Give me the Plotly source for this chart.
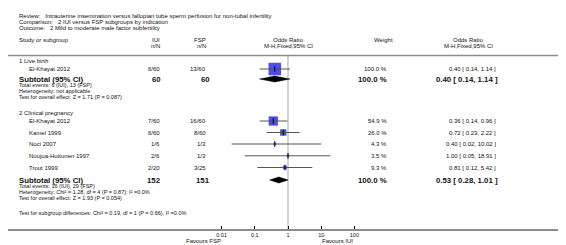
import plotly.graph_objects as go
import math

# ---------------- data ----------------
title_lines = [
    "Review:\u00a0\u00a0 Intrauterine insemination versus fallopian tube sperm perfusion for non-tubal infertility",
    "Comparison:\u00a0\u00a0 2 IUI versus FSP subgroups by indication",
    "Outcome:\u00a0\u00a0 2 Mild to moderate male factor subfertility",
]
group_labels = ["1 Live birth", "2 Clinical pregnancy"]

g1_studies = ["El-Khayat 2012"]
g1_iui = ["6/60"]
g1_fsp = ["13/60"]
g1_weight = [100.0]
g1_or = [0.40]
g1_lo = [0.14]
g1_hi = [1.14]

g2_studies = ["El-Khayat 2012", "Kamel 1999", "Noci 2007", "Nuojua-Huttunen 1997", "Trout 1999"]
g2_iui = ["7/60", "6/60", "1/6", "2/6", "2/20"]
g2_fsp = ["16/60", "8/60", "1/3", "1/3", "3/25"]
g2_weight = [54.9, 26.0, 4.3, 3.5, 9.3]
g2_or = [0.36, 0.72, 0.40, 1.00, 0.81]
g2_lo = [0.14, 0.23, 0.02, 0.05, 0.12]
g2_hi = [0.96, 2.22, 10.02, 18.91, 5.42]

sub_totals_iui = ["60", "152"]
sub_totals_fsp = ["60", "151"]
sub_weight = [100.0, 100.0]
sub_or = [0.40, 0.53]
sub_lo = [0.14, 0.28]
sub_hi = [1.14, 1.01]
sub_notes = [
    ["Total events: 6 (IUI), 13 (FSP)",
     "Heterogeneity: not applicable",
     "Test for overall effect: Z = 1.71 (P = 0.087)"],
    ["Total events: 16 (IUI), 29 (FSP)",
     "Heterogeneity: Chi\u00b2 = 1.28, df = 4 (P = 0.87); I\u00b2 =0.0%",
     "Test for overall effect: Z = 1.93 (P = 0.054)"],
]
subgroup_diff = "Test for subgroup differences: Chi\u00b2 = 0.19, df = 1 (P = 0.66), I\u00b2 =0.0%"
tick_vals = [0.01, 0.1, 1, 10, 100]
tick_text = ["0.01", "0.1", "1", "10", "100"]
favours = ["Favours FSP", "Favours IUI"]

# ---------------- layout constants ----------------
W, H = 566, 245
AXIS_Y = 221
PX_ONE = 280.0
PX_DEC = 33.2
FONT = "Liberation Sans, Arial, sans-serif"
FS = 6
FS_NOTE = 5.5
FSB = 7.8
TXT = "#111111"

X_LEFT = 10
X_IND = 20
X_IUI = 153
X_FSP = 199
X_W = 380
X_OR = 489

r0 = -PX_ONE / PX_DEC
r1 = (W - PX_ONE) / PX_DEC

# row positions (pixels from top)
y_title = [7.5, 13.5, 19.5]
y_head = [31.5, 38]
y_line = 47.5
y_g1_label = 53
y_g1 = [61]
y_sub = [71, 172]
NOTE_GAP = 6.2
y_g2_label = 104.5
y_g2 = [113, 124.5, 136, 147.8, 159.5]
y_diff = 205

fig = go.Figure()
ann = []


def txt(x, y, s, anchor="left", bold=False, size=None, yref="y"):
    ann.append(dict(
        x=x / W, xref="paper", y=y, yref=yref, text=("<b>%s</b>" % s) if bold else s,
        showarrow=False, xanchor=anchor, yanchor="middle", borderpad=0,
        font=dict(family=FONT, size=size or (FSB if bold else FS), color=TXT),
    ))


for s, y in zip(title_lines, y_title):
    txt(X_LEFT, y, s)
txt(X_LEFT, y_head[0], "Study or subgroup")
txt(X_IUI, y_head[0], "IUI", "right")
txt(X_IUI, y_head[1], "n/N", "right")
txt(X_FSP, y_head[0], "FSP", "right")
txt(X_FSP, y_head[1], "n/N", "right")
txt(PX_ONE, y_head[0], "Odds Ratio", "center")
txt(PX_ONE, y_head[1], "M-H,Fixed,95% CI", "center")
txt(X_W - 4, y_head[0], "Weight", "center")
txt(460, y_head[0], "Odds Ratio", "center")
txt(460, y_head[1], "M-H,Fixed,95% CI", "center")


def fmt_or(o, l, h):
    return "%.2f [ %.2f, %.2f ]" % (o, l, h)


groups = [
    (g1_studies, g1_iui, g1_fsp, g1_weight, g1_or, g1_lo, g1_hi, y_g1, y_g1_label),
    (g2_studies, g2_iui, g2_fsp, g2_weight, g2_or, g2_lo, g2_hi, y_g2, y_g2_label),
]

for gi, (studies, iui, fsp, wt, orr, lo, hi, ys, ylab) in enumerate(groups):
    txt(X_LEFT, ylab, group_labels[gi])
    # boxes (area proportional to weight)
    fig.add_trace(go.Scatter(
        x=orr, y=ys, mode="markers",
        marker=dict(symbol="square", size=[12.5 * math.sqrt(w / 100.0) for w in wt],
                    color="#0000ee", line=dict(width=0)), hoverinfo="skip"))
    for s, a, b, w, o, l, h, y in zip(studies, iui, fsp, wt, orr, lo, hi, ys):
        txt(X_IND, y, s)
        txt(X_IUI, y, a, "right")
        txt(X_FSP, y, b, "right")
        txt(X_W, y, "%.1f %%" % w, "right")
        txt(X_OR, y, fmt_or(o, l, h), "right")
        # CI line
        fig.add_trace(go.Scatter(x=[l, h], y=[y, y], mode="lines",
                                 line=dict(color="#555555", width=1), hoverinfo="skip"))
    fig.add_trace(go.Scatter(
        x=orr, y=ys, mode="markers",
        marker=dict(symbol="line-ns", size=4, line=dict(color="#000000", width=1)),
        hoverinfo="skip"))
    # subtotal
    ysb = y_sub[gi]
    txt(X_LEFT, ysb, "Subtotal (95% CI)", bold=True)
    txt(X_IUI + 1, ysb, sub_totals_iui[gi], "right", bold=True)
    txt(X_FSP + 4, ysb, sub_totals_fsp[gi], "right", bold=True)
    txt(X_W, ysb, "%.1f %%" % sub_weight[gi], "right", bold=True)
    txt(X_OR + 2, ysb, fmt_or(sub_or[gi], sub_lo[gi], sub_hi[gi]), "right", bold=True)
    fig.add_trace(go.Scatter(
        x=[sub_lo[gi], sub_or[gi], sub_hi[gi], sub_or[gi], sub_lo[gi]],
        y=[ysb, ysb - 3, ysb, ysb + 3, ysb], mode="lines", fill="toself",
        fillcolor="#000000", line=dict(color="#000000", width=0.5), hoverinfo="skip"))
    for k, s in enumerate(sub_notes[gi]):
        txt(X_LEFT, ysb + NOTE_GAP * (k + 1) - 0.2, s, size=FS_NOTE)

txt(X_LEFT, y_diff, subgroup_diff, size=FS_NOTE)


# favours labels (below axis)
def py_to_paper(py):
    return (AXIS_Y - py) / AXIS_Y


ann.append(dict(x=(PX_ONE - 2 * PX_DEC) / W, xref="paper", y=py_to_paper(232.5), yref="paper",
                text=favours[0], showarrow=False, xanchor="right", yanchor="middle", borderpad=0,
                font=dict(family=FONT, size=FS, color=TXT)))
ann.append(dict(x=(PX_ONE + PX_DEC) / W, xref="paper", y=py_to_paper(232.5), yref="paper",
                text=favours[1], showarrow=False, xanchor="left", yanchor="middle", borderpad=0,
                font=dict(family=FONT, size=FS, color=TXT)))

shapes = [
    # header rule
    dict(type="line", xref="paper", yref="y", x0=0, x1=1, y0=y_line, y1=y_line,
         line=dict(color="#8c8c8c", width=1.5)),
    # line of no effect
    dict(type="line", xref="x", yref="y", x0=1, x1=1, y0=y_line, y1=AXIS_Y,
         line=dict(color="#d4d4d4", width=2), layer="below"),
]

fig.update_layout(
    width=W, height=H, margin=dict(l=0, r=0, t=0, b=H - AXIS_Y),
    paper_bgcolor="white", plot_bgcolor="white", showlegend=False,
    annotations=ann, shapes=shapes,
    xaxis=dict(type="log", range=[r0, r1], showgrid=False, zeroline=False,
               showline=True, linecolor="#8c8c8c", linewidth=1.5,
               ticks="inside", ticklen=3, tickcolor="#000000", tickwidth=0.8,
               tickvals=tick_vals, ticktext=tick_text, ticklabelstandoff=0,
               tickfont=dict(family=FONT, size=5.5, color=TXT), fixedrange=True),
    yaxis=dict(range=[AXIS_Y, 0], visible=False, showgrid=False, zeroline=False,
               fixedrange=True),
)

fig.write_html("out.html")
